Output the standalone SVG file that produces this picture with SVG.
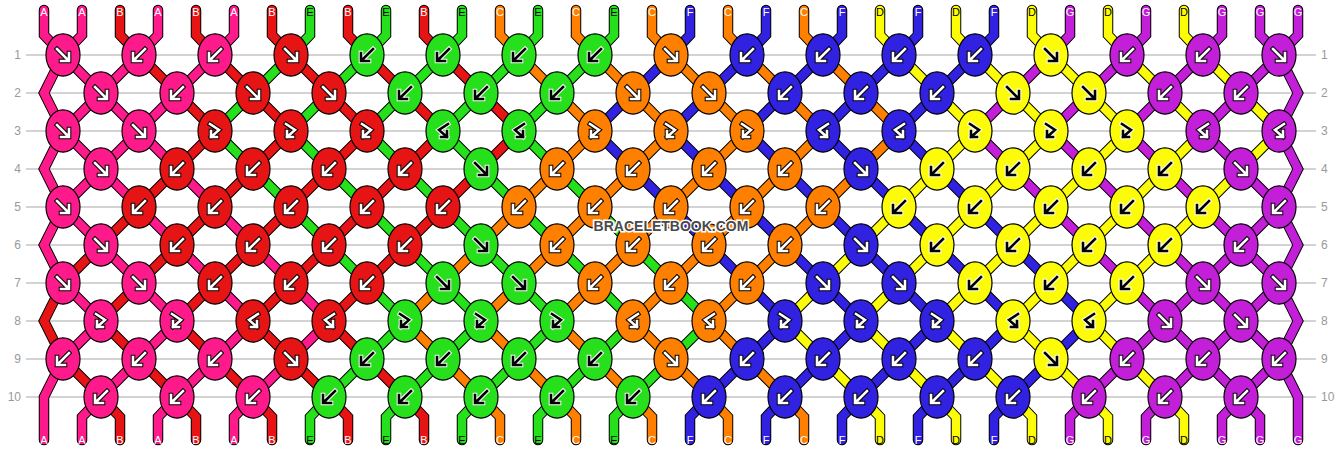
<svg xmlns="http://www.w3.org/2000/svg" width="1342" height="452" viewBox="0 0 1342 452">
<style>
.so{stroke:#000;stroke-width:10.5;fill:none;stroke-linejoin:miter;stroke-linecap:round}
.si{stroke-width:8.5;fill:none;stroke-linejoin:miter;stroke-linecap:round}
#grid line{stroke:#c4c4c4;stroke-width:1.5}
.rl{font:12px "Liberation Sans",Arial,sans-serif;fill:#999}
.rr{text-anchor:end}
.sl{font:11px "Liberation Sans",Arial,sans-serif;text-anchor:middle}
.w{fill:#fff}.k{fill:#000}
.pk{fill:#ff1a8c;color:#fff;stroke:#000}
.rd{fill:#e61414;color:#fff;stroke:#000}
.gr{fill:#26e01c;color:#000;stroke:#fff}
.or{fill:#ff8000;color:#fff;stroke:#000}
.bl{fill:#3022e0;color:#fff;stroke:#000}
.ye{fill:#fcfc08;color:#000;stroke:#fff}
.pu{fill:#c41fd8;color:#fff;stroke:#000}
.wm{font:bold 14px "Liberation Sans",Arial,sans-serif;fill:#4a4a4a;stroke:#fff;stroke-width:3;paint-order:stroke;text-anchor:middle}
</style>
<defs>
<ellipse id="e" rx="17" ry="21.2" stroke="#000" stroke-width="1.2"/>
<g id="aF" fill="none" stroke-linecap="square"><path stroke-width="4.6" d="M-6-6L5 5M6-2V6H-2"/><path stroke="currentColor" stroke-width="2.6" d="M-6-6L5 5M6-2V6H-2"/></g>
<g id="aB" fill="none" stroke-linecap="square"><path stroke-width="4.6" d="M6-6L-5 5M-6-2V6H2"/><path stroke="currentColor" stroke-width="2.6" d="M6-6L-5 5M-6-2V6H2"/></g>
<g id="aFB" fill="none" stroke-linecap="square"><path stroke-width="4.6" d="M-5-7L4-1L-4 6M-4 0V6H2"/><path stroke="currentColor" stroke-width="2.6" d="M-5-7L4-1L-4 6M-4 0V6H2"/></g>
<g id="aBF" fill="none" stroke-linecap="square"><path stroke-width="4.6" d="M5-7L-4-1L4 6M4 0V6H-2"/><path stroke="currentColor" stroke-width="2.6" d="M5-7L-4-1L4 6M4 0V6H-2"/></g>
<path id="sA" d="M44,10v25l19,20l38,38l38,38l38,38l38,38l38,38l38,38l38,38l-38,38l-38,38l-19,20v23M82,10v25l-19,20l-19,38l19,38l38,38l38,38l38,38l38,38l38,38l-38,38l-38,38l-19,20v23M158,10v25l-19,20l-38,38l-38,38l-19,38l19,38l38,38l38,38l38,38l-38,38l-38,38l-19,20v23M234,10v25l-19,20l-38,38l-38,38l-38,38l-38,38l-19,38l19,38l38,38l-38,38l-19,38v43"/>
<path id="sB" d="M120,10v25l19,20l38,38l38,38l-38,38l-38,38l-38,38l-38,38l-19,38l19,38l38,38l19,20v23M196,10v25l19,20l38,38l38,38l-38,38l-38,38l-38,38l-38,38l-38,38l38,38l38,38l19,20v23M272,10v25l19,20l38,38l38,38l-38,38l-38,38l-38,38l-38,38l-38,38l38,38l38,38l19,20v23M348,10v25l19,20l38,38l38,38l-38,38l-38,38l-38,38l-38,38l-38,38l38,38l38,38l19,20v23M424,10v25l19,20l38,38l38,38l-38,38l-38,38l-38,38l-38,38l-38,38l38,38l38,38l19,20v23"/>
<path id="sE" d="M310,10v25l-19,20l-38,38l-38,38l38,38l38,38l38,38l38,38l38,38l-38,38l-38,38l-19,20v23M386,10v25l-19,20l-38,38l-38,38l38,38l38,38l38,38l38,38l38,38l-38,38l-38,38l-19,20v23M462,10v25l-19,20l-38,38l-38,38l38,38l38,38l38,38l38,38l38,38l-38,38l-38,38l-19,20v23M538,10v25l-19,20l-38,38l-38,38l38,38l38,38l38,38l38,38l38,38l-38,38l-38,38l-19,20v23M614,10v25l-19,20l-38,38l-38,38l38,38l38,38l38,38l38,38l38,38l-38,38l-38,38l-19,20v23"/>
<path id="sC" d="M500,10v25l19,20l38,38l38,38l-38,38l-38,38l-38,38l-38,38l-38,38l38,38l38,38l19,20v23M576,10v25l19,20l38,38l38,38l-38,38l-38,38l-38,38l-38,38l-38,38l38,38l38,38l19,20v23M652,10v25l19,20l38,38l38,38l-38,38l-38,38l-38,38l-38,38l-38,38l38,38l38,38l19,20v23M728,10v25l19,20l38,38l38,38l-38,38l-38,38l-38,38l-38,38l-38,38l38,38l38,38l19,20v23M804,10v25l19,20l38,38l38,38l-38,38l-38,38l-38,38l-38,38l-38,38l38,38l38,38l19,20v23"/>
<path id="sF" d="M690,10v25l-19,20l-38,38l-38,38l38,38l38,38l38,38l38,38l38,38l-38,38l-38,38l-19,20v23M766,10v25l-19,20l-38,38l-38,38l38,38l38,38l38,38l38,38l38,38l-38,38l-38,38l-19,20v23M842,10v25l-19,20l-38,38l-38,38l38,38l38,38l38,38l38,38l38,38l-38,38l-38,38l-19,20v23M918,10v25l-19,20l-38,38l-38,38l38,38l38,38l38,38l38,38l38,38l-38,38l-38,38l-19,20v23M994,10v25l-19,20l-38,38l-38,38l38,38l38,38l38,38l38,38l38,38l-38,38l-38,38l-19,20v23"/>
<path id="sD" d="M880,10v25l19,20l38,38l38,38l-38,38l-38,38l-38,38l-38,38l-38,38l38,38l38,38l19,20v23M956,10v25l19,20l38,38l38,38l-38,38l-38,38l-38,38l-38,38l-38,38l38,38l38,38l19,20v23M1032,10v25l19,20l38,38l38,38l-38,38l-38,38l-38,38l-38,38l-38,38l38,38l38,38l19,20v23M1108,10v25l19,20l38,38l38,38l-38,38l-38,38l-38,38l-38,38l-38,38l38,38l38,38l19,20v23M1184,10v25l19,20l38,38l38,38l-38,38l-38,38l-38,38l-38,38l-38,38l38,38l38,38l19,20v23"/>
<path id="sG" d="M1070,10v25l-19,20l-38,38l-38,38l38,38l38,38l38,38l38,38l38,38l38,38l38,38l19,20v23M1146,10v25l-19,20l-38,38l-38,38l38,38l38,38l38,38l38,38l38,38l38,38l19,38v43M1222,10v25l-19,20l-38,38l-38,38l38,38l38,38l38,38l38,38l19,38l-19,38l-38,38l-19,20v23M1298,10v25l-19,20l-38,38l-38,38l38,38l38,38l19,38l-19,38l-38,38l-38,38l-38,38l-19,20v23M1260,10v25l19,20l19,38l-19,38l19,38l-19,38l-38,38l-38,38l-38,38l-38,38l-38,38l-19,20v23"/>
</defs>
<rect width="1342" height="452" fill="#fff"/>
<g id="grid">
<line x1="26" y1="55" x2="1316" y2="55"/><line x1="26" y1="93" x2="1316" y2="93"/><line x1="26" y1="131" x2="1316" y2="131"/><line x1="26" y1="169" x2="1316" y2="169"/><line x1="26" y1="207" x2="1316" y2="207"/><line x1="26" y1="245" x2="1316" y2="245"/><line x1="26" y1="283" x2="1316" y2="283"/><line x1="26" y1="321" x2="1316" y2="321"/><line x1="26" y1="359" x2="1316" y2="359"/><line x1="26" y1="397" x2="1316" y2="397"/>
</g>
<g id="row-labels">
<text class="rl rr" x="21" y="59.3">1</text><text class="rl rr" x="21" y="97.3">2</text><text class="rl rr" x="21" y="135.3">3</text><text class="rl rr" x="21" y="173.3">4</text><text class="rl rr" x="21" y="211.3">5</text><text class="rl rr" x="21" y="249.3">6</text><text class="rl rr" x="21" y="287.3">7</text><text class="rl rr" x="21" y="325.3">8</text><text class="rl rr" x="21" y="363.3">9</text><text class="rl rr" x="21" y="401.3">10</text>
<text class="rl" x="1321" y="59.3">1</text><text class="rl" x="1321" y="97.3">2</text><text class="rl" x="1321" y="135.3">3</text><text class="rl" x="1321" y="173.3">4</text><text class="rl" x="1321" y="211.3">5</text><text class="rl" x="1321" y="249.3">6</text><text class="rl" x="1321" y="287.3">7</text><text class="rl" x="1321" y="325.3">8</text><text class="rl" x="1321" y="363.3">9</text><text class="rl" x="1321" y="401.3">10</text>
</g>
<g id="connectors">
<use href="#sA" class="so"/><use href="#sB" class="so"/><use href="#sE" class="so"/><use href="#sC" class="so"/><use href="#sF" class="so"/><use href="#sD" class="so"/><use href="#sG" class="so"/>
<use href="#sA" class="si" stroke="#ff1a8c"/><use href="#sB" class="si" stroke="#e61414"/><use href="#sE" class="si" stroke="#26e01c"/><use href="#sC" class="si" stroke="#ff8000"/><use href="#sF" class="si" stroke="#3022e0"/><use href="#sD" class="si" stroke="#fcfc08"/><use href="#sG" class="si" stroke="#c41fd8"/>
</g>
<g id="string-labels">
<text class="sl w" x="44" y="16">A</text><text class="sl w" x="82" y="16">A</text><text class="sl w" x="120" y="16">B</text><text class="sl w" x="158" y="16">A</text><text class="sl w" x="196" y="16">B</text><text class="sl w" x="234" y="16">A</text><text class="sl w" x="272" y="16">B</text><text class="sl k" x="310" y="16">E</text><text class="sl w" x="348" y="16">B</text><text class="sl k" x="386" y="16">E</text><text class="sl w" x="424" y="16">B</text><text class="sl k" x="462" y="16">E</text><text class="sl w" x="500" y="16">C</text><text class="sl k" x="538" y="16">E</text><text class="sl w" x="576" y="16">C</text><text class="sl k" x="614" y="16">E</text><text class="sl w" x="652" y="16">C</text><text class="sl w" x="690" y="16">F</text><text class="sl w" x="728" y="16">C</text><text class="sl w" x="766" y="16">F</text><text class="sl w" x="804" y="16">C</text><text class="sl w" x="842" y="16">F</text><text class="sl k" x="880" y="16">D</text><text class="sl w" x="918" y="16">F</text><text class="sl k" x="956" y="16">D</text><text class="sl w" x="994" y="16">F</text><text class="sl k" x="1032" y="16">D</text><text class="sl w" x="1070" y="16">G</text><text class="sl k" x="1108" y="16">D</text><text class="sl w" x="1146" y="16">G</text><text class="sl k" x="1184" y="16">D</text><text class="sl w" x="1222" y="16">G</text><text class="sl w" x="1260" y="16">G</text><text class="sl w" x="1298" y="16">G</text>
<text class="sl w" x="44" y="444">A</text><text class="sl w" x="82" y="444">A</text><text class="sl w" x="120" y="444">B</text><text class="sl w" x="158" y="444">A</text><text class="sl w" x="196" y="444">B</text><text class="sl w" x="234" y="444">A</text><text class="sl w" x="272" y="444">B</text><text class="sl k" x="310" y="444">E</text><text class="sl w" x="348" y="444">B</text><text class="sl k" x="386" y="444">E</text><text class="sl w" x="424" y="444">B</text><text class="sl k" x="462" y="444">E</text><text class="sl w" x="500" y="444">C</text><text class="sl k" x="538" y="444">E</text><text class="sl w" x="576" y="444">C</text><text class="sl k" x="614" y="444">E</text><text class="sl w" x="652" y="444">C</text><text class="sl w" x="690" y="444">F</text><text class="sl w" x="728" y="444">C</text><text class="sl w" x="766" y="444">F</text><text class="sl w" x="804" y="444">C</text><text class="sl w" x="842" y="444">F</text><text class="sl k" x="880" y="444">D</text><text class="sl w" x="918" y="444">F</text><text class="sl k" x="956" y="444">D</text><text class="sl w" x="994" y="444">F</text><text class="sl k" x="1032" y="444">D</text><text class="sl w" x="1070" y="444">G</text><text class="sl k" x="1108" y="444">D</text><text class="sl w" x="1146" y="444">G</text><text class="sl k" x="1184" y="444">D</text><text class="sl w" x="1222" y="444">G</text><text class="sl w" x="1260" y="444">G</text><text class="sl w" x="1298" y="444">G</text>
</g>
<g id="knots">
<g id="n1_0" class="pk" transform="translate(63,55)"><use href="#e"/><use href="#aF"/></g>
<g id="n1_1" class="pk" transform="translate(139,55)"><use href="#e"/><use href="#aB"/></g>
<g id="n1_2" class="pk" transform="translate(215,55)"><use href="#e"/><use href="#aB"/></g>
<g id="n1_3" class="rd" transform="translate(291,55)"><use href="#e"/><use href="#aF"/></g>
<g id="n1_4" class="gr" transform="translate(367,55)"><use href="#e"/><use href="#aB"/></g>
<g id="n1_5" class="gr" transform="translate(443,55)"><use href="#e"/><use href="#aB"/></g>
<g id="n1_6" class="gr" transform="translate(519,55)"><use href="#e"/><use href="#aB"/></g>
<g id="n1_7" class="gr" transform="translate(595,55)"><use href="#e"/><use href="#aB"/></g>
<g id="n1_8" class="or" transform="translate(671,55)"><use href="#e"/><use href="#aF"/></g>
<g id="n1_9" class="bl" transform="translate(747,55)"><use href="#e"/><use href="#aB"/></g>
<g id="n1_10" class="bl" transform="translate(823,55)"><use href="#e"/><use href="#aB"/></g>
<g id="n1_11" class="bl" transform="translate(899,55)"><use href="#e"/><use href="#aB"/></g>
<g id="n1_12" class="bl" transform="translate(975,55)"><use href="#e"/><use href="#aB"/></g>
<g id="n1_13" class="ye" transform="translate(1051,55)"><use href="#e"/><use href="#aF"/></g>
<g id="n1_14" class="pu" transform="translate(1127,55)"><use href="#e"/><use href="#aB"/></g>
<g id="n1_15" class="pu" transform="translate(1203,55)"><use href="#e"/><use href="#aB"/></g>
<g id="n1_16" class="pu" transform="translate(1279,55)"><use href="#e"/><use href="#aF"/></g>
<g id="n2_0" class="pk" transform="translate(101,93)"><use href="#e"/><use href="#aF"/></g>
<g id="n2_1" class="pk" transform="translate(177,93)"><use href="#e"/><use href="#aB"/></g>
<g id="n2_2" class="rd" transform="translate(253,93)"><use href="#e"/><use href="#aF"/></g>
<g id="n2_3" class="rd" transform="translate(329,93)"><use href="#e"/><use href="#aF"/></g>
<g id="n2_4" class="gr" transform="translate(405,93)"><use href="#e"/><use href="#aB"/></g>
<g id="n2_5" class="gr" transform="translate(481,93)"><use href="#e"/><use href="#aB"/></g>
<g id="n2_6" class="gr" transform="translate(557,93)"><use href="#e"/><use href="#aB"/></g>
<g id="n2_7" class="or" transform="translate(633,93)"><use href="#e"/><use href="#aF"/></g>
<g id="n2_8" class="or" transform="translate(709,93)"><use href="#e"/><use href="#aF"/></g>
<g id="n2_9" class="bl" transform="translate(785,93)"><use href="#e"/><use href="#aB"/></g>
<g id="n2_10" class="bl" transform="translate(861,93)"><use href="#e"/><use href="#aB"/></g>
<g id="n2_11" class="bl" transform="translate(937,93)"><use href="#e"/><use href="#aB"/></g>
<g id="n2_12" class="ye" transform="translate(1013,93)"><use href="#e"/><use href="#aF"/></g>
<g id="n2_13" class="ye" transform="translate(1089,93)"><use href="#e"/><use href="#aF"/></g>
<g id="n2_14" class="pu" transform="translate(1165,93)"><use href="#e"/><use href="#aB"/></g>
<g id="n2_15" class="pu" transform="translate(1241,93)"><use href="#e"/><use href="#aB"/></g>
<g id="n3_0" class="pk" transform="translate(63,131)"><use href="#e"/><use href="#aF"/></g>
<g id="n3_1" class="pk" transform="translate(139,131)"><use href="#e"/><use href="#aF"/></g>
<g id="n3_2" class="rd" transform="translate(215,131)"><use href="#e"/><use href="#aFB"/></g>
<g id="n3_3" class="rd" transform="translate(291,131)"><use href="#e"/><use href="#aFB"/></g>
<g id="n3_4" class="rd" transform="translate(367,131)"><use href="#e"/><use href="#aFB"/></g>
<g id="n3_5" class="gr" transform="translate(443,131)"><use href="#e"/><use href="#aBF"/></g>
<g id="n3_6" class="gr" transform="translate(519,131)"><use href="#e"/><use href="#aBF"/></g>
<g id="n3_7" class="or" transform="translate(595,131)"><use href="#e"/><use href="#aFB"/></g>
<g id="n3_8" class="or" transform="translate(671,131)"><use href="#e"/><use href="#aFB"/></g>
<g id="n3_9" class="or" transform="translate(747,131)"><use href="#e"/><use href="#aFB"/></g>
<g id="n3_10" class="bl" transform="translate(823,131)"><use href="#e"/><use href="#aBF"/></g>
<g id="n3_11" class="bl" transform="translate(899,131)"><use href="#e"/><use href="#aBF"/></g>
<g id="n3_12" class="ye" transform="translate(975,131)"><use href="#e"/><use href="#aFB"/></g>
<g id="n3_13" class="ye" transform="translate(1051,131)"><use href="#e"/><use href="#aFB"/></g>
<g id="n3_14" class="ye" transform="translate(1127,131)"><use href="#e"/><use href="#aFB"/></g>
<g id="n3_15" class="pu" transform="translate(1203,131)"><use href="#e"/><use href="#aBF"/></g>
<g id="n3_16" class="pu" transform="translate(1279,131)"><use href="#e"/><use href="#aBF"/></g>
<g id="n4_0" class="pk" transform="translate(101,169)"><use href="#e"/><use href="#aF"/></g>
<g id="n4_1" class="rd" transform="translate(177,169)"><use href="#e"/><use href="#aB"/></g>
<g id="n4_2" class="rd" transform="translate(253,169)"><use href="#e"/><use href="#aB"/></g>
<g id="n4_3" class="rd" transform="translate(329,169)"><use href="#e"/><use href="#aB"/></g>
<g id="n4_4" class="rd" transform="translate(405,169)"><use href="#e"/><use href="#aB"/></g>
<g id="n4_5" class="gr" transform="translate(481,169)"><use href="#e"/><use href="#aF"/></g>
<g id="n4_6" class="or" transform="translate(557,169)"><use href="#e"/><use href="#aB"/></g>
<g id="n4_7" class="or" transform="translate(633,169)"><use href="#e"/><use href="#aB"/></g>
<g id="n4_8" class="or" transform="translate(709,169)"><use href="#e"/><use href="#aB"/></g>
<g id="n4_9" class="or" transform="translate(785,169)"><use href="#e"/><use href="#aB"/></g>
<g id="n4_10" class="bl" transform="translate(861,169)"><use href="#e"/><use href="#aF"/></g>
<g id="n4_11" class="ye" transform="translate(937,169)"><use href="#e"/><use href="#aB"/></g>
<g id="n4_12" class="ye" transform="translate(1013,169)"><use href="#e"/><use href="#aB"/></g>
<g id="n4_13" class="ye" transform="translate(1089,169)"><use href="#e"/><use href="#aB"/></g>
<g id="n4_14" class="ye" transform="translate(1165,169)"><use href="#e"/><use href="#aB"/></g>
<g id="n4_15" class="pu" transform="translate(1241,169)"><use href="#e"/><use href="#aF"/></g>
<g id="n5_0" class="pk" transform="translate(63,207)"><use href="#e"/><use href="#aF"/></g>
<g id="n5_1" class="rd" transform="translate(139,207)"><use href="#e"/><use href="#aB"/></g>
<g id="n5_2" class="rd" transform="translate(215,207)"><use href="#e"/><use href="#aB"/></g>
<g id="n5_3" class="rd" transform="translate(291,207)"><use href="#e"/><use href="#aB"/></g>
<g id="n5_4" class="rd" transform="translate(367,207)"><use href="#e"/><use href="#aB"/></g>
<g id="n5_5" class="rd" transform="translate(443,207)"><use href="#e"/><use href="#aB"/></g>
<g id="n5_6" class="or" transform="translate(519,207)"><use href="#e"/><use href="#aB"/></g>
<g id="n5_7" class="or" transform="translate(595,207)"><use href="#e"/><use href="#aB"/></g>
<g id="n5_8" class="or" transform="translate(671,207)"><use href="#e"/><use href="#aB"/></g>
<g id="n5_9" class="or" transform="translate(747,207)"><use href="#e"/><use href="#aB"/></g>
<g id="n5_10" class="or" transform="translate(823,207)"><use href="#e"/><use href="#aB"/></g>
<g id="n5_11" class="ye" transform="translate(899,207)"><use href="#e"/><use href="#aB"/></g>
<g id="n5_12" class="ye" transform="translate(975,207)"><use href="#e"/><use href="#aB"/></g>
<g id="n5_13" class="ye" transform="translate(1051,207)"><use href="#e"/><use href="#aB"/></g>
<g id="n5_14" class="ye" transform="translate(1127,207)"><use href="#e"/><use href="#aB"/></g>
<g id="n5_15" class="ye" transform="translate(1203,207)"><use href="#e"/><use href="#aB"/></g>
<g id="n5_16" class="pu" transform="translate(1279,207)"><use href="#e"/><use href="#aB"/></g>
<g id="n6_0" class="pk" transform="translate(101,245)"><use href="#e"/><use href="#aF"/></g>
<g id="n6_1" class="rd" transform="translate(177,245)"><use href="#e"/><use href="#aB"/></g>
<g id="n6_2" class="rd" transform="translate(253,245)"><use href="#e"/><use href="#aB"/></g>
<g id="n6_3" class="rd" transform="translate(329,245)"><use href="#e"/><use href="#aB"/></g>
<g id="n6_4" class="rd" transform="translate(405,245)"><use href="#e"/><use href="#aB"/></g>
<g id="n6_5" class="gr" transform="translate(481,245)"><use href="#e"/><use href="#aF"/></g>
<g id="n6_6" class="or" transform="translate(557,245)"><use href="#e"/><use href="#aB"/></g>
<g id="n6_7" class="or" transform="translate(633,245)"><use href="#e"/><use href="#aB"/></g>
<g id="n6_8" class="or" transform="translate(709,245)"><use href="#e"/><use href="#aB"/></g>
<g id="n6_9" class="or" transform="translate(785,245)"><use href="#e"/><use href="#aB"/></g>
<g id="n6_10" class="bl" transform="translate(861,245)"><use href="#e"/><use href="#aF"/></g>
<g id="n6_11" class="ye" transform="translate(937,245)"><use href="#e"/><use href="#aB"/></g>
<g id="n6_12" class="ye" transform="translate(1013,245)"><use href="#e"/><use href="#aB"/></g>
<g id="n6_13" class="ye" transform="translate(1089,245)"><use href="#e"/><use href="#aB"/></g>
<g id="n6_14" class="ye" transform="translate(1165,245)"><use href="#e"/><use href="#aB"/></g>
<g id="n6_15" class="pu" transform="translate(1241,245)"><use href="#e"/><use href="#aB"/></g>
<g id="n7_0" class="pk" transform="translate(63,283)"><use href="#e"/><use href="#aF"/></g>
<g id="n7_1" class="pk" transform="translate(139,283)"><use href="#e"/><use href="#aF"/></g>
<g id="n7_2" class="rd" transform="translate(215,283)"><use href="#e"/><use href="#aB"/></g>
<g id="n7_3" class="rd" transform="translate(291,283)"><use href="#e"/><use href="#aB"/></g>
<g id="n7_4" class="rd" transform="translate(367,283)"><use href="#e"/><use href="#aB"/></g>
<g id="n7_5" class="gr" transform="translate(443,283)"><use href="#e"/><use href="#aF"/></g>
<g id="n7_6" class="gr" transform="translate(519,283)"><use href="#e"/><use href="#aF"/></g>
<g id="n7_7" class="or" transform="translate(595,283)"><use href="#e"/><use href="#aB"/></g>
<g id="n7_8" class="or" transform="translate(671,283)"><use href="#e"/><use href="#aB"/></g>
<g id="n7_9" class="or" transform="translate(747,283)"><use href="#e"/><use href="#aB"/></g>
<g id="n7_10" class="bl" transform="translate(823,283)"><use href="#e"/><use href="#aF"/></g>
<g id="n7_11" class="bl" transform="translate(899,283)"><use href="#e"/><use href="#aF"/></g>
<g id="n7_12" class="ye" transform="translate(975,283)"><use href="#e"/><use href="#aB"/></g>
<g id="n7_13" class="ye" transform="translate(1051,283)"><use href="#e"/><use href="#aB"/></g>
<g id="n7_14" class="ye" transform="translate(1127,283)"><use href="#e"/><use href="#aB"/></g>
<g id="n7_15" class="pu" transform="translate(1203,283)"><use href="#e"/><use href="#aF"/></g>
<g id="n7_16" class="pu" transform="translate(1279,283)"><use href="#e"/><use href="#aF"/></g>
<g id="n8_0" class="pk" transform="translate(101,321)"><use href="#e"/><use href="#aFB"/></g>
<g id="n8_1" class="pk" transform="translate(177,321)"><use href="#e"/><use href="#aFB"/></g>
<g id="n8_2" class="rd" transform="translate(253,321)"><use href="#e"/><use href="#aBF"/></g>
<g id="n8_3" class="rd" transform="translate(329,321)"><use href="#e"/><use href="#aBF"/></g>
<g id="n8_4" class="gr" transform="translate(405,321)"><use href="#e"/><use href="#aFB"/></g>
<g id="n8_5" class="gr" transform="translate(481,321)"><use href="#e"/><use href="#aFB"/></g>
<g id="n8_6" class="gr" transform="translate(557,321)"><use href="#e"/><use href="#aFB"/></g>
<g id="n8_7" class="or" transform="translate(633,321)"><use href="#e"/><use href="#aBF"/></g>
<g id="n8_8" class="or" transform="translate(709,321)"><use href="#e"/><use href="#aBF"/></g>
<g id="n8_9" class="bl" transform="translate(785,321)"><use href="#e"/><use href="#aFB"/></g>
<g id="n8_10" class="bl" transform="translate(861,321)"><use href="#e"/><use href="#aFB"/></g>
<g id="n8_11" class="bl" transform="translate(937,321)"><use href="#e"/><use href="#aFB"/></g>
<g id="n8_12" class="ye" transform="translate(1013,321)"><use href="#e"/><use href="#aBF"/></g>
<g id="n8_13" class="ye" transform="translate(1089,321)"><use href="#e"/><use href="#aBF"/></g>
<g id="n8_14" class="pu" transform="translate(1165,321)"><use href="#e"/><use href="#aF"/></g>
<g id="n8_15" class="pu" transform="translate(1241,321)"><use href="#e"/><use href="#aF"/></g>
<g id="n9_0" class="pk" transform="translate(63,359)"><use href="#e"/><use href="#aB"/></g>
<g id="n9_1" class="pk" transform="translate(139,359)"><use href="#e"/><use href="#aB"/></g>
<g id="n9_2" class="pk" transform="translate(215,359)"><use href="#e"/><use href="#aB"/></g>
<g id="n9_3" class="rd" transform="translate(291,359)"><use href="#e"/><use href="#aF"/></g>
<g id="n9_4" class="gr" transform="translate(367,359)"><use href="#e"/><use href="#aB"/></g>
<g id="n9_5" class="gr" transform="translate(443,359)"><use href="#e"/><use href="#aB"/></g>
<g id="n9_6" class="gr" transform="translate(519,359)"><use href="#e"/><use href="#aB"/></g>
<g id="n9_7" class="gr" transform="translate(595,359)"><use href="#e"/><use href="#aB"/></g>
<g id="n9_8" class="or" transform="translate(671,359)"><use href="#e"/><use href="#aF"/></g>
<g id="n9_9" class="bl" transform="translate(747,359)"><use href="#e"/><use href="#aB"/></g>
<g id="n9_10" class="bl" transform="translate(823,359)"><use href="#e"/><use href="#aB"/></g>
<g id="n9_11" class="bl" transform="translate(899,359)"><use href="#e"/><use href="#aB"/></g>
<g id="n9_12" class="bl" transform="translate(975,359)"><use href="#e"/><use href="#aB"/></g>
<g id="n9_13" class="ye" transform="translate(1051,359)"><use href="#e"/><use href="#aF"/></g>
<g id="n9_14" class="pu" transform="translate(1127,359)"><use href="#e"/><use href="#aB"/></g>
<g id="n9_15" class="pu" transform="translate(1203,359)"><use href="#e"/><use href="#aB"/></g>
<g id="n9_16" class="pu" transform="translate(1279,359)"><use href="#e"/><use href="#aB"/></g>
<g id="n10_0" class="pk" transform="translate(101,397)"><use href="#e"/><use href="#aB"/></g>
<g id="n10_1" class="pk" transform="translate(177,397)"><use href="#e"/><use href="#aB"/></g>
<g id="n10_2" class="pk" transform="translate(253,397)"><use href="#e"/><use href="#aB"/></g>
<g id="n10_3" class="gr" transform="translate(329,397)"><use href="#e"/><use href="#aB"/></g>
<g id="n10_4" class="gr" transform="translate(405,397)"><use href="#e"/><use href="#aB"/></g>
<g id="n10_5" class="gr" transform="translate(481,397)"><use href="#e"/><use href="#aB"/></g>
<g id="n10_6" class="gr" transform="translate(557,397)"><use href="#e"/><use href="#aB"/></g>
<g id="n10_7" class="gr" transform="translate(633,397)"><use href="#e"/><use href="#aB"/></g>
<g id="n10_8" class="bl" transform="translate(709,397)"><use href="#e"/><use href="#aB"/></g>
<g id="n10_9" class="bl" transform="translate(785,397)"><use href="#e"/><use href="#aB"/></g>
<g id="n10_10" class="bl" transform="translate(861,397)"><use href="#e"/><use href="#aB"/></g>
<g id="n10_11" class="bl" transform="translate(937,397)"><use href="#e"/><use href="#aB"/></g>
<g id="n10_12" class="bl" transform="translate(1013,397)"><use href="#e"/><use href="#aB"/></g>
<g id="n10_13" class="pu" transform="translate(1089,397)"><use href="#e"/><use href="#aB"/></g>
<g id="n10_14" class="pu" transform="translate(1165,397)"><use href="#e"/><use href="#aB"/></g>
<g id="n10_15" class="pu" transform="translate(1241,397)"><use href="#e"/><use href="#aB"/></g>
</g>
<text id="watermark" class="wm" x="671" y="231">BRACELETBOOK.COM</text>
</svg>
